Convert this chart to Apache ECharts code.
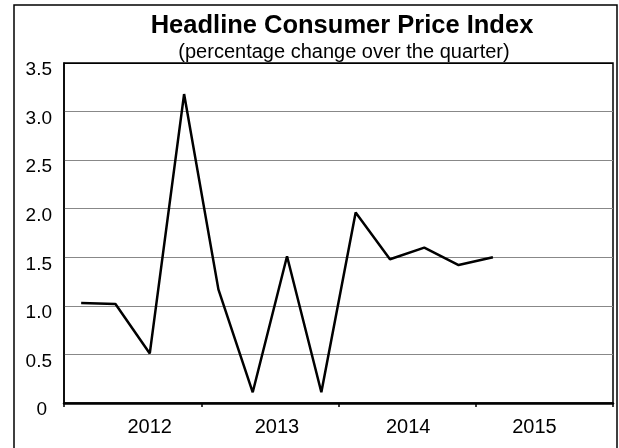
<!DOCTYPE html>
<html>
<head>
<meta charset="utf-8">
<script src="https://cdn.jsdelivr.net/npm/echarts@6/dist/echarts.min.js"></script>
<style>
html,body{margin:0;padding:0;background:#fff;}
#chart{width:619px;height:448px;}
</style>
</head>
<body>
<div id="chart"></div>
<script>
var quarters = ['2012Q1','2012Q2','2012Q3','2012Q4','2013Q1','2013Q2','2013Q3','2013Q4','2014Q1','2014Q2','2014Q3','2014Q4','2015Q1','2015Q2','2015Q3','2015Q4'];
var years = ['2012','2013','2014','2015'];
var cpi = [1.03, 1.02, 0.51, 3.18, 1.17, 0.11, 1.51, 0.11, 1.96, 1.48, 1.60, 1.42, 1.50];
var yTicks = [0, 0.5, 1, 1.5, 2, 2.5, 3, 3.5];

var FONT = '"Liberation Sans", Arial, sans-serif';
var chart = echarts.init(document.getElementById('chart'), null, {renderer:'canvas'});
var yearStyle = {'2012':'a','2013':'b','2014':'c','2015':'d'};
var XF = 20, YF = 19;
var option = {
  animation: false,
  backgroundColor: '#fff',
  title: [
    {text: 'Headline Consumer Price Index', left: 337, top: 8, textAlign: 'center',
     textStyle: {fontFamily: FONT, fontWeight: 'bold', fontSize: 25.5, color: '#000'}},
    {text: '(percentage change over the quarter)', left: 339, top: 37, textAlign: 'center',
     textStyle: {fontFamily: FONT, fontWeight: 'normal', fontSize: 20, color: '#000'}}
  ],
  graphic: [
    {type: 'rect', shape: {x: 14, y: 5, width: 603, height: 450}, style: {fill: 'none', stroke: '#000', lineWidth: 1.5}, silent: true}
  ],
  grid: {left: 64, top: 63, right: 6, bottom: 45, show: true, borderColor: '#000', borderWidth: 1.5, backgroundColor: 'transparent'},
  xAxis: [
    {type: 'category', data: quarters, boundaryGap: true, show: false},
    {type: 'category', data: years, boundaryGap: true, position: 'bottom',
     axisLine: {show: true, lineStyle: {color: '#000', width: 2.5}},
     axisTick: {show: true, inside: false, length: 4, lineStyle: {color: '#000', width: 1.5}},
     splitLine: {show: false},
     axisLabel: {fontFamily: FONT, fontSize: XF, color: '#000', margin: 14,
       formatter: function(v){ return '{' + yearStyle[v] + '|' + v + '}'; },
       rich: {
         a: {fontFamily: FONT, fontSize: XF, color: '#000', padding: [0,0,0,34]},
         b: {fontFamily: FONT, fontSize: XF, color: '#000', padding: [0,0,0,14]},
         c: {fontFamily: FONT, fontSize: XF, color: '#000', padding: [0,0,0,2]},
         d: {fontFamily: FONT, fontSize: XF, color: '#000', padding: [0,20,0,0]}
       }}}
  ],
  yAxis: {
    type: 'value', min: yTicks[0], max: yTicks[yTicks.length-1], interval: 0.5,
    axisLine: {show: true, lineStyle: {color: '#000', width: 1.5}},
    axisTick: {show: false},
    splitLine: {show: true, lineStyle: {color: ['#888','#888','#888','#888','#888','#888','#888','#000'], width: 1.2}},
    axisLabel: {fontFamily: FONT, fontSize: YF, color: '#000', margin: 12, padding: [14,0,0,0],
      formatter: function(v){ return v === 0 ? '{z|0}' : v.toFixed(1); },
      rich: {z: {fontFamily: FONT, fontSize: YF, color: '#000', padding: [0,5,0,0]}}}
  },
  series: [{
    type: 'line', xAxisIndex: 0, data: cpi, symbol: 'none', smooth: false,
    lineStyle: {color: '#000', width: 2.5}, z: 5
  }]
};
chart.setOption(option);
</script>
</body>
</html>
